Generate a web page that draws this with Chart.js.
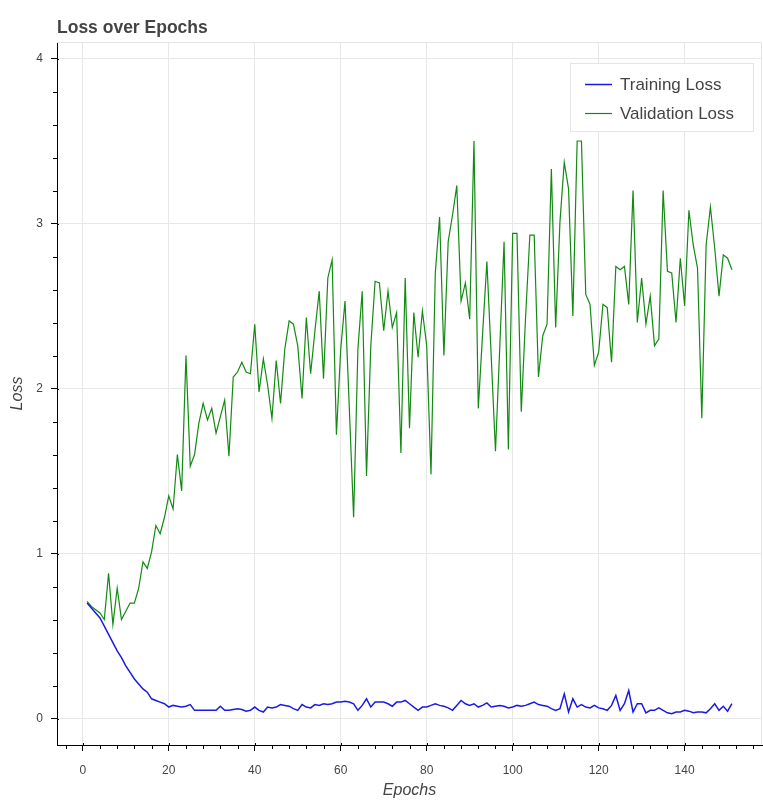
<!DOCTYPE html>
<html>
<head>
<meta charset="utf-8">
<script src="https://cdn.jsdelivr.net/npm/chart.js@4/dist/chart.umd.min.js"></script>
<style>
  html, body { margin: 0; padding: 0; background: #fff; }
  #wrap { width: 763px; height: 800px; position: relative; }
</style>
</head>
<body>
<div id="wrap"><canvas id="c" width="763" height="800"></canvas></div>
<script>
const chartTitle = "Loss over Epochs";
const xTitle = "Epochs";
const yTitle = "Loss";
const seriesNames = ["Training Loss", "Validation Loss"];
const xTicks = [0, 20, 40, 60, 80, 100, 120, 140];
const yTicks = [0, 1, 2, 3, 4];

const epochs = [1,2,3,4,5,6,7,8,9,10,11,12,13,14,15,16,17,18,19,20,
21,22,23,24,25,26,27,28,29,30,31,32,33,34,35,36,37,38,39,40,
41,42,43,44,45,46,47,48,49,50,51,52,53,54,55,56,57,58,59,60,
61,62,63,64,65,66,67,68,69,70,71,72,73,74,75,76,77,78,79,80,
81,82,83,84,85,86,87,88,89,90,91,92,93,94,95,96,97,98,99,100,
101,102,103,104,105,106,107,108,109,110,111,112,113,114,115,116,117,118,119,120,
121,122,123,124,125,126,127,128,129,130,131,132,133,134,135,136,137,138,139,140,
141,142,143,144,145,146,147,148,149,150,151];

const trainingLoss = [
0.70,0.67,0.64,0.61,0.56,0.51,0.46,0.41,0.37,0.32,
0.28,0.24,0.21,0.18,0.16,0.12,0.11,0.10,0.09,0.07,
0.08,0.075,0.07,0.075,0.085,0.05,0.05,0.05,0.05,0.05,
0.05,0.075,0.05,0.05,0.055,0.06,0.055,0.045,0.05,0.07,
0.05,0.04,0.07,0.065,0.07,0.085,0.08,0.075,0.06,0.05,
0.085,0.07,0.065,0.085,0.08,0.09,0.085,0.09,0.10,0.10,
0.105,0.10,0.09,0.05,0.08,0.12,0.07,0.10,0.10,0.10,
0.09,0.075,0.10,0.10,0.11,0.09,0.07,0.05,0.07,0.07,
0.08,0.09,0.08,0.075,0.065,0.05,0.08,0.11,0.09,0.08,
0.09,0.07,0.08,0.095,0.07,0.075,0.08,0.075,0.065,0.07,
0.08,0.075,0.08,0.09,0.10,0.085,0.08,0.075,0.06,0.05,
0.06,0.15,0.04,0.12,0.07,0.085,0.07,0.065,0.08,0.065,
0.06,0.05,0.08,0.14,0.05,0.09,0.17,0.04,0.09,0.09,
0.035,0.05,0.05,0.065,0.05,0.035,0.03,0.04,0.04,0.05,
0.045,0.035,0.04,0.04,0.035,0.06,0.09,0.05,0.075,0.045,
0.09];

const validationLoss = [
0.71,0.68,0.66,0.64,0.60,0.88,0.57,0.79,0.60,0.65,
0.70,0.70,0.79,0.95,0.91,1.01,1.17,1.12,1.22,1.35,
1.27,1.60,1.38,2.20,1.53,1.60,1.79,1.91,1.81,1.88,
1.73,1.83,1.93,1.59,2.07,2.10,2.16,2.10,2.09,2.39,
1.98,2.18,2.02,1.82,2.17,1.91,2.24,2.41,2.39,2.26,
1.94,2.43,2.09,2.35,2.59,2.06,2.67,2.78,1.72,2.24,
2.53,1.88,1.22,2.24,2.59,1.47,2.26,2.65,2.64,2.35,
2.59,2.37,2.46,1.61,2.67,1.76,2.46,2.19,2.47,2.26,
1.48,2.70,3.04,2.20,2.89,3.05,3.23,2.53,2.64,2.42,
3.50,1.88,2.33,2.77,2.20,1.62,2.25,2.89,1.63,2.94,
2.94,1.86,2.43,2.93,2.93,2.07,2.32,2.39,3.33,2.37,
3.01,3.37,3.21,2.44,3.50,3.50,2.57,2.51,2.14,2.22,
2.51,2.49,2.16,2.74,2.72,2.74,2.51,3.20,2.40,2.67,
2.39,2.56,2.26,2.30,3.20,2.71,2.70,2.40,2.79,2.50,
3.08,2.87,2.73,1.82,2.87,3.10,2.85,2.56,2.81,2.79,
2.72];

const FONT = "'Liberation Sans', Helvetica, Arial, sans-serif";
const TEXT = '#444444';

const decorPlugin = {
  id: 'decor',
  beforeDatasetsDraw(chart) {
    const ctx = chart.ctx, a = chart.chartArea;
    ctx.save();
    ctx.strokeStyle = '#e5e5e5';
    ctx.lineWidth = 1;
    ctx.beginPath();
    ctx.moveTo(a.left, a.top + 0.5); ctx.lineTo(a.right - 0.5, a.top + 0.5);
    ctx.lineTo(a.right - 0.5, a.bottom);
    ctx.stroke();
    ctx.restore();
  },
  afterDraw(chart) {
    const ctx = chart.ctx, a = chart.chartArea;
    const xs = chart.scales.x, ys = chart.scales.y;
    ctx.save();
    ctx.strokeStyle = '#000';
    ctx.lineWidth = 1;
    ctx.beginPath();
    for (let v = Math.ceil(xs.min / 4) * 4; v <= xs.max; v += 4) {
      const px = Math.round(xs.getPixelForValue(v)) + 0.5;
      if (v % 20 === 0) { ctx.moveTo(px, a.bottom); ctx.lineTo(px, a.bottom - 2); }
      else { ctx.moveTo(px, a.bottom); ctx.lineTo(px, a.bottom + 4); }
    }
    for (let i = Math.ceil(ys.min / 0.2); i * 0.2 <= ys.max + 1e-9; i++) {
      const v = i * 0.2;
      const py = Math.round(ys.getPixelForValue(v)) + 0.5;
      if (i % 5 === 0) { ctx.moveTo(a.left, py); ctx.lineTo(a.left + 2, py); }
      else { ctx.moveTo(a.left, py); ctx.lineTo(a.left - 4, py); }
    }
    ctx.stroke();

    // title
    ctx.fillStyle = TEXT;
    ctx.font = 'bold 17.5px ' + FONT;
    ctx.textAlign = 'left';
    ctx.textBaseline = 'alphabetic';
    ctx.fillText(chartTitle, 57, 33);

    // legend
    const lx = 570, ly = 63, lw = 183, lh = 68;
    ctx.fillStyle = 'rgba(255,255,255,0.95)';
    ctx.fillRect(lx, ly, lw, lh);
    ctx.strokeStyle = '#e5e5e5';
    ctx.strokeRect(lx + 0.5, ly + 0.5, lw, lh);
    ctx.font = '17px ' + FONT;
    ctx.textBaseline = 'middle';
    chart.data.datasets.forEach((ds, i) => {
      const y = 84 + i * 29;
      ctx.strokeStyle = ds.borderColor;
      ctx.lineWidth = ds.borderWidth;
      ctx.beginPath();
      ctx.moveTo(585, y + 0.5); ctx.lineTo(612, y + 0.5);
      ctx.stroke();
      ctx.fillStyle = TEXT;
      ctx.fillText(ds.label, 620, y + 1);
    });
    ctx.restore();
  }
};

const ctx = document.getElementById('c').getContext('2d');
new Chart(ctx, {
  type: 'line',
  data: {
    datasets: [
      {
        label: seriesNames[0],
        data: epochs.map((e, i) => ({ x: e, y: trainingLoss[i] })),
        borderColor: '#1a1ae6',
        borderWidth: 1.5,
        pointRadius: 0,
        tension: 0,
        fill: false
      },
      {
        label: seriesNames[1],
        data: epochs.map((e, i) => ({ x: e, y: validationLoss[i] })),
        borderColor: '#138a13',
        borderWidth: 1.2,
        pointRadius: 0,
        tension: 0,
        fill: false
      }
    ]
  },
  options: {
    responsive: false,
    animation: false,
    devicePixelRatio: 1,
    layout: { padding: { top: 42, right: 1, left: 0, bottom: 0 } },
    plugins: {
      legend: { display: false },
      title: { display: false },
      tooltip: { enabled: false }
    },
    scales: {
      x: {
        type: 'linear',
        min: -6,
        max: 158,
        afterBuildTicks: (s) => { s.ticks = xTicks.map(v => ({ value: v })); },
        afterFit: (s) => { s.height = 55; },
        grid: { color: '#e8e8e8', lineWidth: 1, drawTicks: true, tickLength: 6, tickColor: '#000' },
        border: { display: true, color: '#000', width: 1 },
        ticks: { color: TEXT, font: { family: FONT, size: 12 }, padding: 12, maxRotation: 0 },
        title: { display: true, text: xTitle, color: TEXT, font: { family: FONT, size: 16, style: 'italic' }, padding: { top: 0, bottom: 0 } }
      },
      y: {
        type: 'linear',
        min: -0.16,
        max: 4.1,
        afterBuildTicks: (s) => { s.ticks = yTicks.map(v => ({ value: v })); },
        afterFit: (s) => { s.width = 57; },
        grid: { color: '#e8e8e8', lineWidth: 1, drawTicks: true, tickLength: 6, tickColor: '#000' },
        border: { display: true, color: '#000', width: 1 },
        ticks: { color: TEXT, font: { family: FONT, size: 12 }, padding: 8 },
        title: { display: true, text: yTitle, color: TEXT, font: { family: FONT, size: 16, style: 'italic' }, padding: { top: 8, bottom: 0 } }
      }
    }
  },
  plugins: [decorPlugin]
});
</script>
</body>
</html>
